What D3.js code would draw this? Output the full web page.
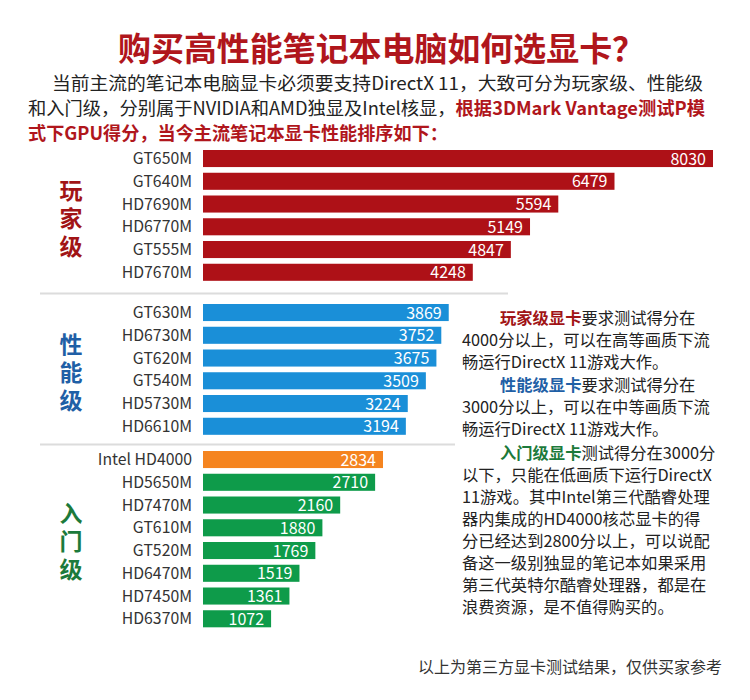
<!DOCTYPE html>
<html>
<head>
<meta charset="utf-8">
<script src="https://cdn.jsdelivr.net/npm/d3@7"></script>
<style>
  body { margin: 0; background: #fff; }
  svg text { font-family: "Noto Sans CJK SC", "Noto Sans", sans-serif; }
</style>
</head>
<body>
<script>
// data
var tierNames = ["玩家级", "性能级", "入门级"];
var tierCards = [
  ["GT650M", "GT640M", "HD7690M", "HD6770M", "GT555M", "HD7670M"],
  ["GT630M", "HD6730M", "GT620M", "GT540M", "HD5730M", "HD6610M"],
  ["Intel HD4000", "HD5650M", "HD7470M", "GT610M", "GT520M", "HD6470M", "HD7450M", "HD6370M"]
];
var tierScores = [
  [8030, 6479, 5594, 5149, 4847, 4248],
  [3869, 3752, 3675, 3509, 3224, 3194],
  [2834, 2710, 2160, 1880, 1769, 1519, 1361, 1072]
];

// layout
var w = 750, h = 700;
var step = 22.75;
var groupTops = [150, 304, 451];
var barColors = ["#ae1117", "#1a8fd8", "#0e9b4a"];
var highlightColor = "#f5841f";
var tierLabelColors = ["#a11416", "#1f5fa6", "#1c7a3b"];

var svg = d3.select("body")
  .append("svg")
  .attr("width", w)
  .attr("height", h);

var x = d3.scaleLinear()
  .domain([0, 8030])
  .range([203, 713]);

// title
svg.append("text")
  .attr("x", 118).attr("y", 61)
  .attr("textLength", 527).attr("lengthAdjust", "spacingAndGlyphs")
  .attr("font-size", 33).attr("font-weight", "bold")
  .attr("fill", "#b0161c")
  .text("购买高性能笔记本电脑如何选显卡？");

// intro paragraph
var intro = svg.append("g").attr("font-size", 18).attr("fill", "#222");
intro.append("text")
  .attr("x", 52).attr("y", 90)
  .attr("textLength", 651).attr("lengthAdjust", "spacingAndGlyphs")
  .text("当前主流的笔记本电脑显卡必须要支持DirectX 11，大致可分为玩家级、性能级");
var l2 = intro.append("text")
  .attr("x", 28).attr("y", 115)
  .attr("textLength", 677).attr("lengthAdjust", "spacingAndGlyphs");
l2.append("tspan").text("和入门级，分别属于NVIDIA和AMD独显及Intel核显，");
l2.append("tspan").attr("fill", "#b0161c").attr("font-weight", "bold").text("根据3DMark Vantage测试P模");
intro.append("text")
  .attr("x", 28).attr("y", 140)
  .attr("textLength", 420).attr("lengthAdjust", "spacingAndGlyphs")
  .attr("fill", "#b0161c").attr("font-weight", "bold")
  .text("式下GPU得分，当今主流笔记本显卡性能排序如下：");

// separators
svg.append("line").attr("x1", 40).attr("x2", 508).attr("y1", 293.5).attr("y2", 293.5)
  .attr("stroke", "#dcdcdc").attr("stroke-width", 2);
svg.append("line").attr("x1", 40).attr("x2", 455).attr("y1", 444.5).attr("y2", 444.5)
  .attr("stroke", "#dcdcdc").attr("stroke-width", 2);

// bars per tier
tierCards.forEach((cards, t) => {
  var y = d3.scaleBand()
    .domain(cards)
    .range([groupTops[t], groupTops[t] + step * (cards.length - 0.25)])
    .paddingInner(0.25)
    .paddingOuter(0);

  var rows = cards.map((c, i) => ({ name: c, score: tierScores[t][i] }));
  var g = svg.append("g");

  g.selectAll("rect")
    .data(rows)
    .enter()
    .append("rect")
    .attr("x", x(0))
    .attr("y", d => y(d.name))
    .attr("width", d => x(d.score) - x(0))
    .attr("height", y.bandwidth())
    .attr("fill", d => d.name === "Intel HD4000" ? highlightColor : barColors[t]);

  g.selectAll("text.val")
    .data(rows)
    .enter()
    .append("text")
    .attr("class", "val")
    .attr("x", d => x(d.score) - 7)
    .attr("y", d => y(d.name) + y.bandwidth() / 2 + 6)
    .attr("text-anchor", "end")
    .attr("font-family", "'Open Sans', 'Noto Sans', sans-serif")
    .attr("font-size", 16)
    .attr("fill", "white")
    .text(d => d.score);

  g.selectAll("text.name")
    .data(rows)
    .enter()
    .append("text")
    .attr("class", "name")
    .attr("x", 192)
    .attr("y", d => y(d.name) + y.bandwidth() / 2 + 5.5)
    .attr("text-anchor", "end")
    .attr("font-family", "'Open Sans', 'Noto Sans', sans-serif")
    .attr("font-size", 15.8)
    .attr("fill", "#333")
    .text(d => d.name);

  // vertical tier label, one text running top to bottom
  var mid = (y.range()[0] + y.range()[1]) / 2 + 5;
  g.append("text")
    .attr("x", 71)
    .attr("y", mid - 42)
    .attr("writing-mode", "vertical-rl")
    .attr("letter-spacing", 5)
    .attr("font-size", 23)
    .attr("font-weight", "bold")
    .attr("fill", tierLabelColors[t])
    .text(tierNames[t]);
});

// right-hand notes
var notes = [
  [[tierNames[0] + "显卡", tierLabelColors[0]], ["要求测试得分在", null]],
  [["4000分以上，可以在高等画质下流", null]],
  [["畅运行DirectX 11游戏大作。", null]],
  [[tierNames[1] + "显卡", tierLabelColors[1]], ["要求测试得分在", null]],
  [["3000分以上，可以在中等画质下流", null]],
  [["畅运行DirectX 11游戏大作。", null]],
  [[tierNames[2] + "显卡", tierLabelColors[2]], ["测试得分在3000分", null]],
  [["以下，只能在低画质下运行DirectX", null]],
  [["11游戏。其中Intel第三代酷睿处理", null]],
  [["器内集成的HD4000核芯显卡的得", null]],
  [["分已经达到2800分以上，可以说配", null]],
  [["备这一级别独显的笔记本如果采用", null]],
  [["第三代英特尔酷睿处理器，都是在", null]],
  [["浪费资源，是不值得购买的。", null]]
];
var noteY = [324, 346, 368, 391, 413, 435, 459, 481, 503, 525, 547, 569, 591, 613];
var noteG = svg.append("g").attr("font-size", 16.3).attr("fill", "#222");
notes.forEach((parts, i) => {
  var first = parts.length > 1;
  var t = noteG.append("text")
    .attr("x", first ? 500 : 462)
    .attr("y", noteY[i]);
  parts.forEach(p => {
    var s = t.append("tspan").text(p[0]);
    if (p[1]) s.attr("fill", p[1]).attr("font-weight", "bold");
  });
});

// footer
svg.append("text")
  .attr("x", 722).attr("y", 673)
  .attr("text-anchor", "end")
  .attr("font-size", 16)
  .attr("fill", "#333")
  .text("以上为第三方显卡测试结果，仅供买家参考");
</script>
</body>
</html>
